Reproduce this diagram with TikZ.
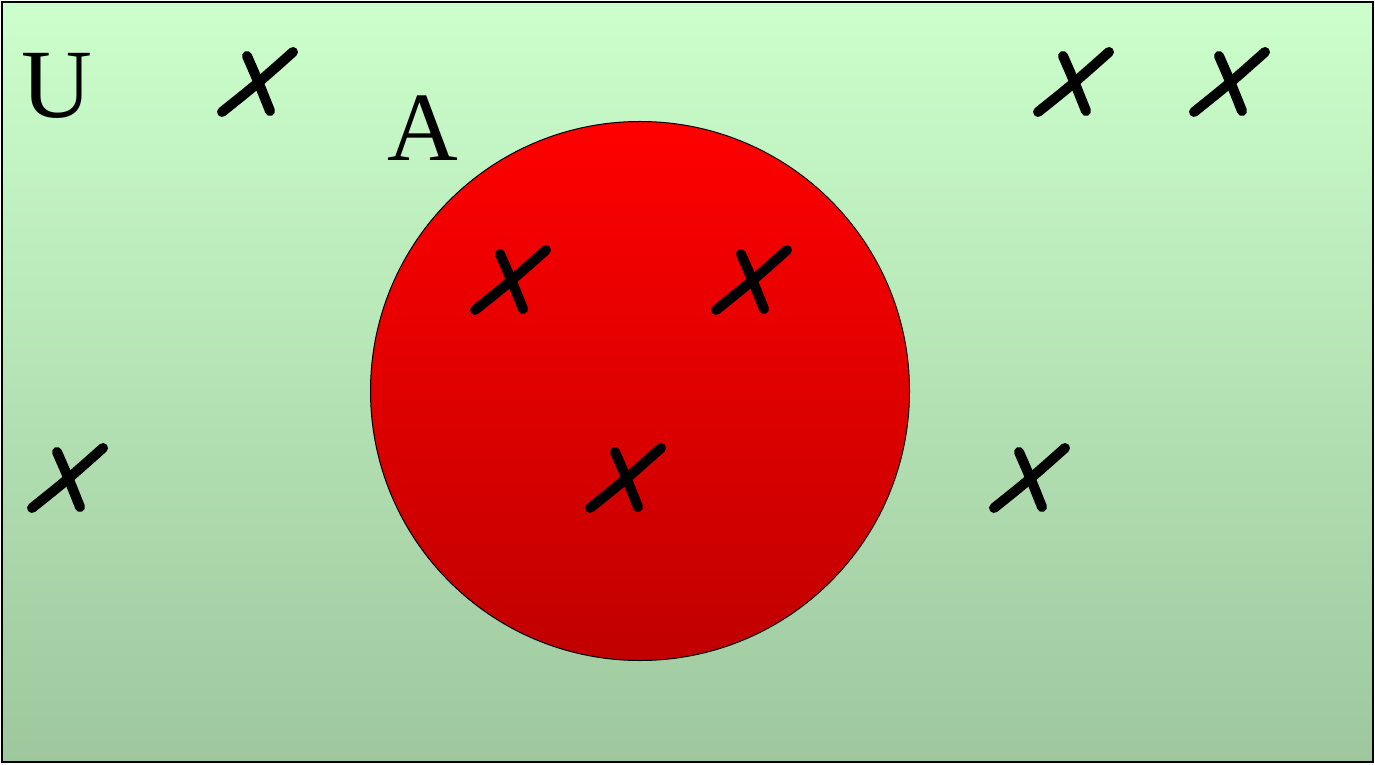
\documentclass[tikz,border=0pt]{standalone}
\usepackage{fontspec}
\setmainfont{Liberation Serif}
\begin{document}
\begin{tikzpicture}[x=1pt,y=1pt,
  lbl/.style={font=\fontsize{98}{98}\selectfont, inner sep=0pt, anchor=base},
  crossline/.style={line width=10pt, line cap=round},
  cross/.pic={
    \draw[crossline] (-35,-30) .. controls (0,-2) .. (36,30);
    \draw[crossline] (-10,26) .. controls (1,1) .. (13,-29);
  }]
\useasboundingbox (0,0) rectangle (1375,764);
\draw[line width=2.2pt, top color={rgb,255:red,204;green,255;blue,204}, bottom color={rgb,255:red,158;green,199;blue,158}] (2,2) rectangle (1373,762);
\draw[line width=1pt, top color={rgb,255:red,255;green,0;blue,0}, bottom color={rgb,255:red,192;green,0;blue,0}] (640,373) circle (269.5);
\node[lbl] (U) at (57,646) {U};
\node[lbl] (A) at (423,603) {A};
\pic (x1) at (257,682) {cross};
\pic (x2) at (1073,682) {cross};
\pic (x3) at (1229,682) {cross};
\pic (x4) at (510,484) {cross};
\pic (x5) at (751,484) {cross};
\pic (x6) at (625,286) {cross};
\pic (x7) at (67,286) {cross};
\pic (x8) at (1029,286) {cross};
\end{tikzpicture}
\end{document}
